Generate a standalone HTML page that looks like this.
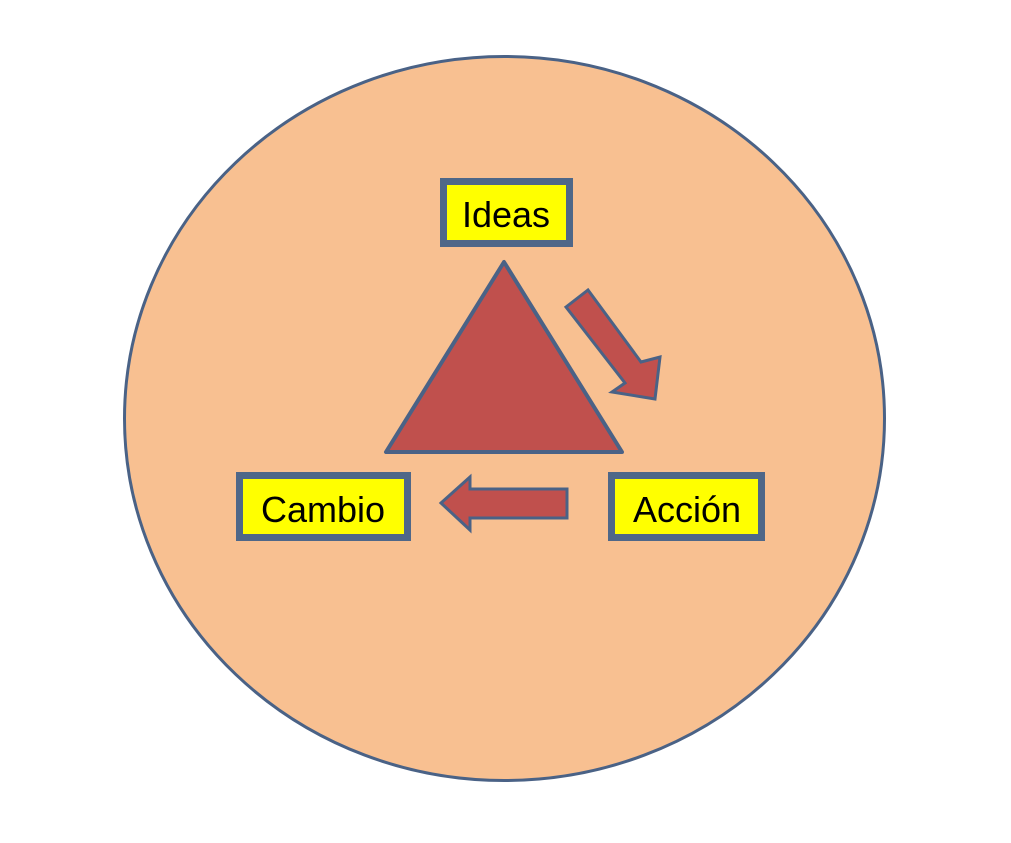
<!DOCTYPE html>
<html><head><style>
body{margin:0;background:#fff;width:1011px;height:843px;overflow:hidden}
svg{display:block}
text{font-family:"Liberation Sans",Arial,sans-serif;font-size:36px;fill:#000}
</style></head><body>
<svg width="1011" height="843" viewBox="0 0 1011 843">
<ellipse cx="504.5" cy="418.5" rx="380" ry="362" fill="#f8c091" stroke="#4a6286" stroke-width="3"/>
<polygon points="504,262 386,452 622,452" fill="#c0504d" stroke="#4a6286" stroke-width="4" stroke-linejoin="round"/>
<polygon points="566,307 588,290 641,362 660,357 655,399 612,392 625,383" fill="#c0504d" stroke="#4a6286" stroke-width="3" stroke-linejoin="miter"/>
<polygon points="441,503 470,477 470,489 567,489 567,518 470,518 470,530" fill="#c0504d" stroke="#4a6286" stroke-width="3"/>
<rect x="443.5" y="181.5" width="126" height="62" fill="#ffff00" stroke="#4f6788" stroke-width="7"/>
<text x="506" y="227" text-anchor="middle">Ideas</text>
<rect x="239.5" y="475.5" width="168" height="62" fill="#ffff00" stroke="#4f6788" stroke-width="7"/>
<text x="323" y="522" text-anchor="middle">Cambio</text>
<rect x="611.5" y="475.5" width="150" height="62" fill="#ffff00" stroke="#4f6788" stroke-width="7"/>
<text x="687" y="522" text-anchor="middle">Acción</text>
</svg>
</body></html>
